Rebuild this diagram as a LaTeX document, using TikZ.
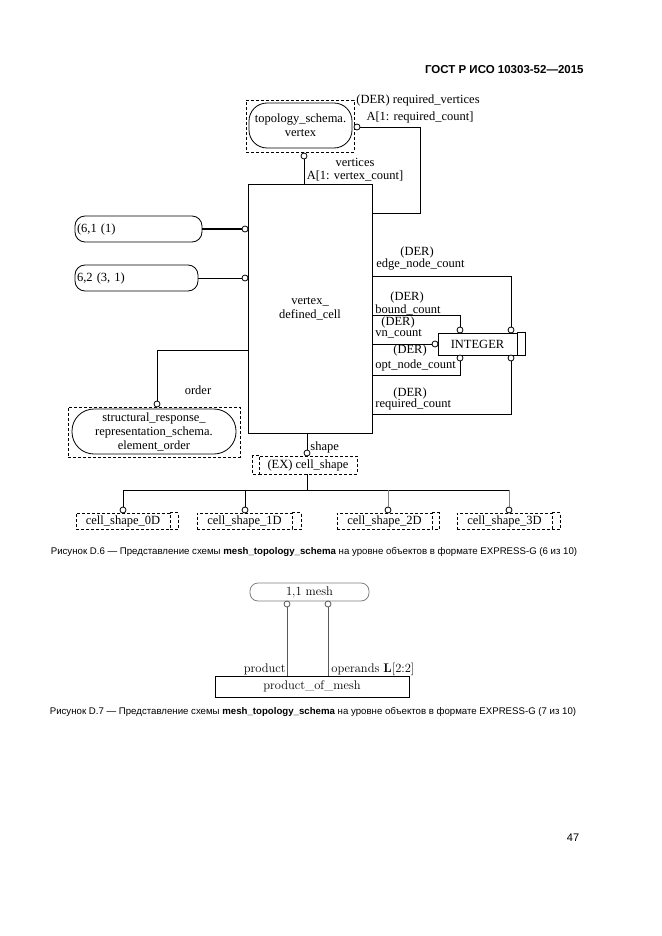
\documentclass[tikz,border=0pt]{standalone}
\usepackage{fontspec}
\newfontfamily\timesfont{Liberation Serif}
\newfontfamily\arialfont{Liberation Sans}
\begin{document}
\begin{tikzpicture}[x=1pt,y=-1pt,line width=0.8pt,
    dot/.style={draw,circle,fill=white,inner sep=0pt,minimum size=6pt},
    dbox/.style={draw,dash pattern=on 3pt off 2pt,inner sep=0pt},
    ent/.style={draw,inner sep=0pt},
    lab/.style={inner sep=0pt,font=\timesfont\fontsize{12.5}{14}\selectfont},
    lm/.style={inner sep=0pt,font=\fontsize{12.5}{14}\selectfont},
    captext/.style={inner sep=0pt,font=\arialfont\fontsize{9.65}{11}\selectfont}]
  \useasboundingbox[fill=white] (0,0) rectangle (661,936);
  \node[inner sep=0pt,anchor=east,font=\arialfont\bfseries\fontsize{11.5}{13}\selectfont]
    (hd) at (584,70) {ГОСТ Р ИСО 10303-52—2015};
  % entity
  \node[ent,lab,minimum width=124,minimum height=249,align=center]
    (vdc) at (310,308.5) {vertex\_\\defined\_cell};
  % vertex
  \node[dbox,minimum width=108,minimum height=52] (tv) at (300,126) {};
  \node[draw,rounded corners=18,lab,minimum width=103,minimum height=45,align=center]
    (tvi) at (300.5,125.5) {topology\_schema.\\vertex};
  \node[dot] (cv) at (304,156) {};
  \node[dot] (crv) at (357,127) {};
  \draw (cv) -- (cv |- vdc.north);
  \node[lab] (lv1) at (355,162.5) {vertices};
  \node[lab] (lv2) at (355,176) {A[1: vertex\_count]};
  \node[lab] (lrv1) at (418,100) {(DER) required\_vertices};
  \node[lab] (lrv2) at (420,117) {A[1: required\_count]};
  \coordinate (k0) at (420,213);
  \draw (crv) -| (k0) -- (k0 -| vdc.east);
  % supertypes
  \node[draw,rounded corners=10,lab,minimum width=127,minimum height=26,
    text width=123,align=left] (n61) at (138.5,229) {(6,1 (1)};
  \node[draw,rounded corners=10,lab,minimum width=123,minimum height=26,
    text width=119,align=left] (n62) at (136.5,278) {6,2 (3, 1)};
  \node[dot] (c61) at (245,229) {};
  \node[dot] (c62) at (245,278) {};
  \draw[line width=1.8pt] (n61.east) -- (c61.west);
  \draw (n62.east) -- (c62.west);
  % order
  \node[dbox,minimum width=172,minimum height=50] (eo) at (154,432) {};
  \node[draw,rounded corners=22,lab,minimum width=164,minimum height=45,align=center]
    (eoi) at (154,431.5) {structural\_response\_\\representation\_schema.\\element\_order};
  \node[dot] (co) at (157,404) {};
  \coordinate (k5) at (157,350);
  \draw (co) -- (k5) -- (k5 -| vdc.west);
  \node[lab] (lo) at (198,390) {order};
  % INTEGER
  \node[ent,lab,minimum width=79,minimum height=22] (int) at (477.5,344) {INTEGER};
  \draw (int.north east) -- ++(8,0) |- (int.south east);
  \node[dot] (ci1) at (460,330) {};
  \node[dot] (ci2) at (511,330) {};
  \node[dot] (ci3) at (435,344) {};
  \node[dot] (ci4) at (460,358) {};
  \node[dot] (ci5) at (511,358) {};
  \coordinate (k1) at (511,276);
  \coordinate (k2) at (460,315);
  \coordinate (k3) at (460,375);
  \coordinate (k4) at (511,414);
  \draw (vdc.east |- k1) -- (k1) -- (ci2);
  \draw (vdc.east |- k2) -- (k2) -- (ci1);
  \draw (vdc.east |- ci3) -- (ci3);
  \draw (vdc.east |- k3) -- (k3) -- (ci4);
  \draw (vdc.east |- k4) -- (k4) -- (ci5);
  \node[lab] (l1a) at (417,252) {(DER)};
  \node[lab,anchor=west] (l1b) at (376,265) {edge\_node\_count};
  \node[lab] (l2a) at (407,297.5) {(DER)};
  \node[lab,anchor=west] (l2b) at (375,309.5) {bound\_count};
  \node[lab] (l3a) at (398,322.5) {(DER)};
  \node[lab,anchor=west] (l3b) at (375,334) {vn\_count};
  \node[lab] (l4a) at (410,350.5) {(DER)};
  \node[lab,anchor=west] (l4b) at (375,365) {opt\_node\_count};
  \node[lab] (l5a) at (410,393) {(DER)};
  \node[lab,anchor=west] (l5b) at (375,404) {required\_count};
  % cell_shape
  \node[dbox,lab,minimum width=98,minimum height=18] (cs) at (308,465) {(EX) cell\_shape};
  \draw[dash pattern=on 3pt off 2pt] (cs.north west) -- ++(-6,0) |- (cs.south west);
  \node[dot] (cs0) at (307,453) {};
  \draw (cs0 |- vdc.south) -- (cs0);
  \node[lab,anchor=west] (ls) at (310,447) {shape};
  \node[dbox,lab,minimum width=94,minimum height=16] (s0) at (123,521) {cell\_shape\_0D};
  \node[dbox,lab,minimum width=95,minimum height=16] (s1) at (244.5,521) {cell\_shape\_1D};
  \node[dbox,lab,minimum width=95,minimum height=16] (s2) at (384.5,521) {cell\_shape\_2D};
  \node[dbox,lab,minimum width=95,minimum height=16] (s3) at (504.5,521) {cell\_shape\_3D};
  \draw[dash pattern=on 3pt off 2pt] (s0.north east) -- ++(8,0) |- (s0.south east);
  \draw[dash pattern=on 3pt off 2pt] (s1.north east) -- ++(9,0) |- (s1.south east);
  \draw[dash pattern=on 3pt off 2pt] (s2.north east) -- ++(7,0) |- (s2.south east);
  \draw[dash pattern=on 3pt off 2pt] (s3.north east) -- ++(8,0) |- (s3.south east);
  \node[dot] (d0) at (123,510) {};
  \node[dot] (d1) at (245,510) {};
  \node[dot] (d2) at (388,510) {};
  \node[dot] (d3) at (509,510) {};
  \coordinate (kt) at (307,490);
  \draw (cs.south -| kt) -- (kt);
  \draw (d0 |- kt) -- (d3 |- kt);
  \draw (d0 |- kt) -- (d0);
  \draw (d1 |- kt) -- (d1);
  \draw[gray] (d2 |- kt) -- (d2);
  \draw[gray] (d3 |- kt) -- (d3);
  \node[captext] (cap1) at (314,552) {Рисунок D.6 — Представление схемы \textbf{mesh\_topology\_schema} на уровне объектов в формате EXPRESS-G (6 из 10)};
  % product_of_mesh
  \node[draw=gray,rounded corners=8,lm,minimum width=119,minimum height=18] (m) at (309.5,592) {1,1 mesh};
  \node[dot,draw=gray!70!black] (dm1) at (287,604) {};
  \node[dot,draw=gray!70!black] (dm2) at (328,604) {};
  \node[ent,lm,minimum width=194,minimum height=21] (pm) at (312,686.5) {product\_of\_mesh};
  \draw[gray!70!black] (dm1) -- (dm1 |- pm.north);
  \draw[gray!70!black] (dm2) -- (dm2 |- pm.north);
  \node[lm,anchor=east] (lp) at (286,669) {product};
  \node[lm,anchor=west] (lop) at (331,669) {operands \textbf{L}[2:2]};
  \node[captext] (cap2) at (313,712) {Рисунок D.7 — Представление схемы \textbf{mesh\_topology\_schema} на уровне объектов в формате EXPRESS-G (7 из 10)};
  \node[captext,font=\arialfont\fontsize{11}{13}\selectfont] (pg) at (573,838) {47};
\end{tikzpicture}
\end{document}
